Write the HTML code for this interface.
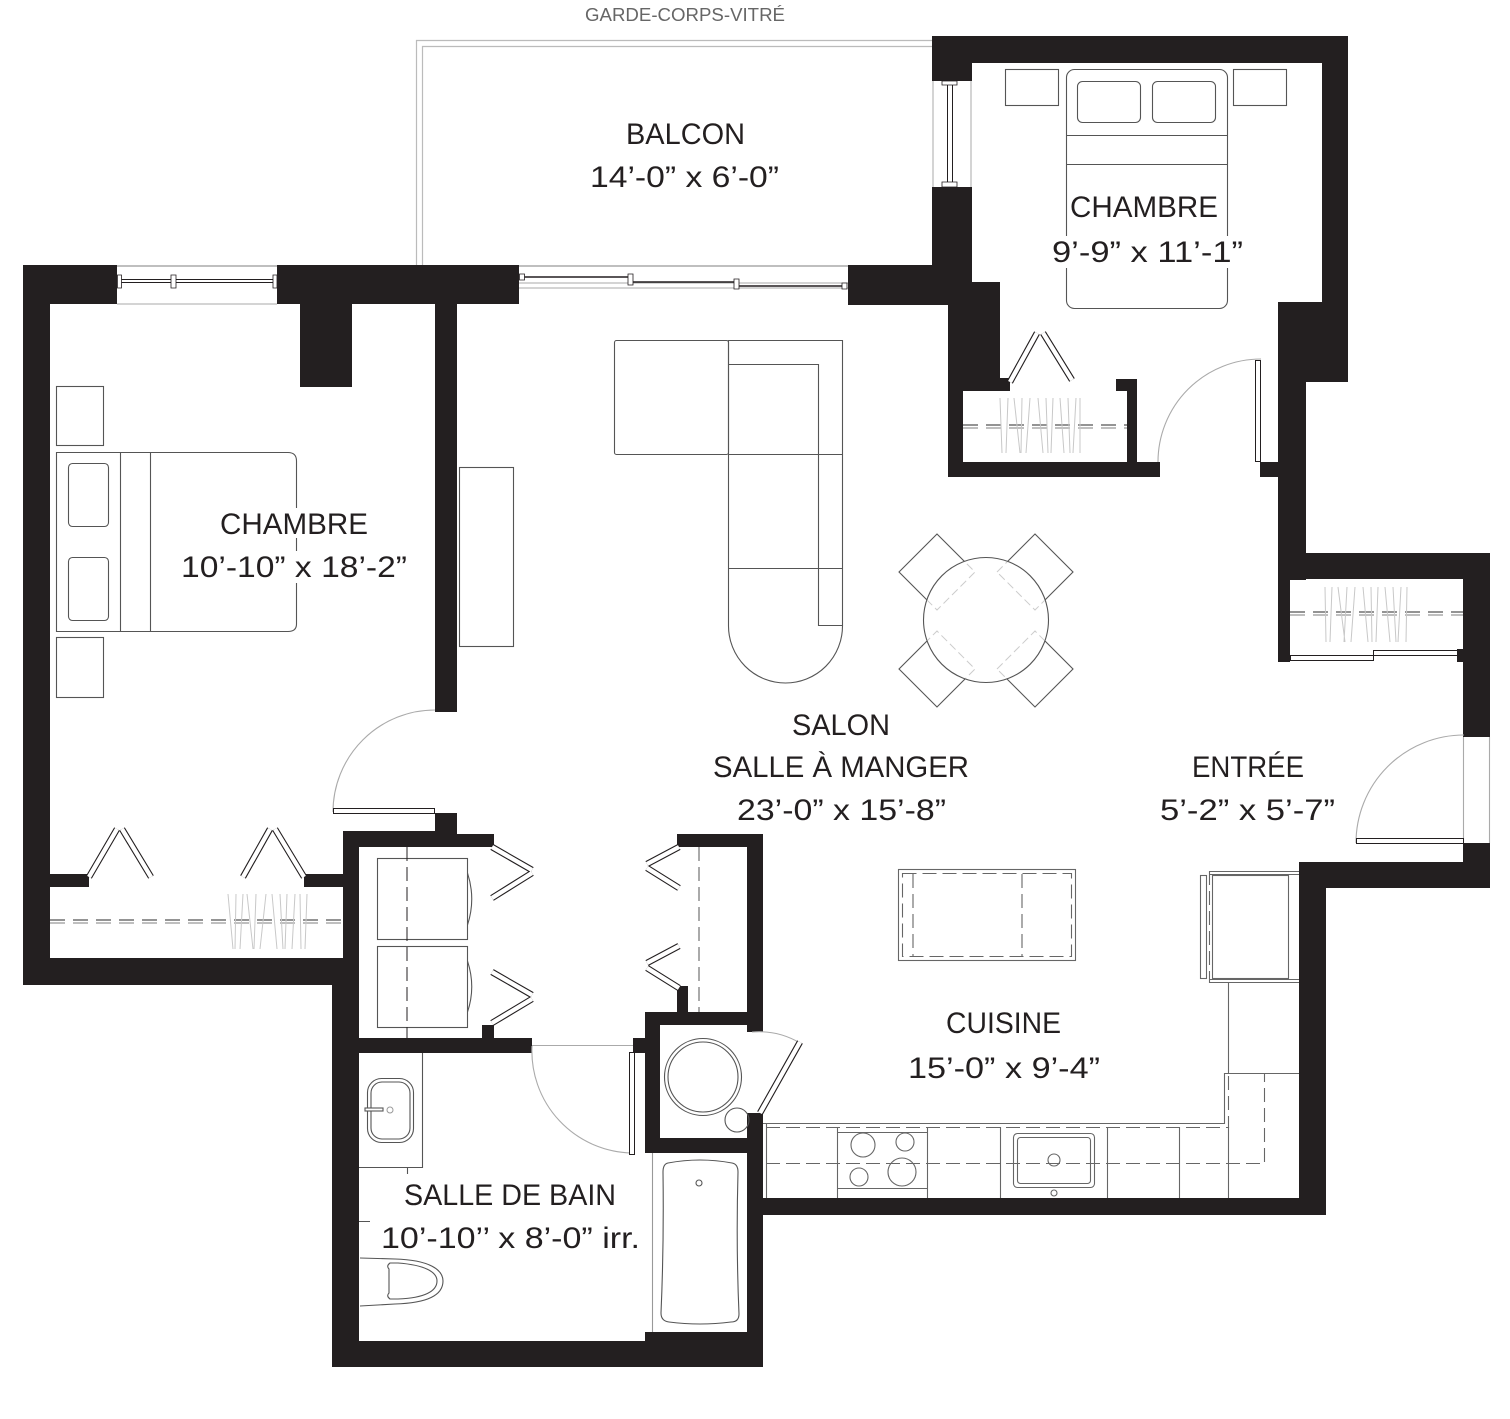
<!DOCTYPE html>
<html><head><meta charset="utf-8"><style>
html,body{margin:0;padding:0;background:#fff}
svg{display:block}
text{font-family:"Liberation Sans",sans-serif;fill:#231f20;font-size:30px}
</style></head><body>
<svg width="1510" height="1419" viewBox="0 0 1510 1419" xmlns="http://www.w3.org/2000/svg" xmlns:xlink="http://www.w3.org/1999/xlink">
<defs>
<path id="bifold" d="M89,877 L117,829 M122,829 L151,877 M243,877 L270,829 M275,829 L304,877 M1010,382 L1037,333 M1043,333 L1072,380 M492,847 L532,870 M532,873 L492,898 M492,972 L532,995 M532,999 L492,1023 M679,847 L647,864 M647,868 L679,888 M679,946 L647,963 M647,968 L679,988 M760,1113 L800,1042"/>
<path id="chairs" d="M899,572 L937,534 L975,572 L937,610 Z M997,572 L1035,534 L1073,572 L1035,610 Z M899,669 L937,631 L975,669 L937,707 Z M997,669 L1035,631 L1073,669 L1035,707 Z"/>
<clipPath id="tbl"><circle cx="986" cy="620" r="62"/></clipPath>
</defs>
<rect x="0" y="0" width="1510" height="1419" fill="#fff"/>
<path d="M416.5,265 V40.5 H932 M422.5,265 V46.5 H932" fill="none" stroke="#bbb" stroke-width="1.2"/>
<path fill="#231f20" d="M23,265h94v39h-94z M277,265h242v39h-242z M300,300h52v87h-52z M23,265h27v720h-27z M435,300h22v412h-22z M848,265h124v40h-124z M932,36h416v27h-416z M932,60h40v21h-40z M932,187h40v118h-40z M948,282h52v98h-52z M948,378h62v13h-62z M948,380h15v97h-15z M948,462h212v15h-212z M1116,379h21v12h-21z M1127,379h10v90h-10z M1322,36h26v270h-26z M1278,302h70v80h-70z M1278,378h28v202h-28z M1260,462h20v15h-20z M1278,553h212v26h-212z M1278,575h12v87h-12z M1463,553h27v184h-27z M1457,649h10v13h-10z M1463,843h27v45h-27z M1299,862h191v26h-191z M1299,862h27v353h-27z M747,1198h579v17h-579z M747,1113h16v254h-16z M332,1341h431v26h-431z M645,1332h118v35h-118z M332,985h27v382h-27z M343,831h16v222h-16z M23,958h321v27h-321z M50,874h39v13h-39z M304,874h42v13h-42z M435,813h22v22h-22z M343,831h114v16h-114z M455,834h39v13h-39z M482,1025h12v15h-12z M359,1038h173v15h-173z M633,1038h14v15h-14z M677,834h86v13h-86z M747,834h16v198h-16z M677,986h11v27h-11z M645,1012h118v13h-118z M645,1012h15v141h-15z M645,1138h118v15h-118z"/>
<path d="M117,266 H277 M519,266 H848" stroke="#999" stroke-width="1.3" fill="none"/>
<path d="M117,304 H277 M519,283 H848 M519,288 H848 M933,81 V187 M971,81 V187" stroke="#aaa" stroke-width="1" fill="none"/>
<path d="M120,279.5 H274 M120,282.5 H274 M947.5,84 V184 M952.5,84 V184" stroke="#231f20" stroke-width="1" fill="none"/>
<path d="M521,277 H630 M630,282 H736 M736,286 H845" stroke="#231f20" stroke-width="1.5" fill="none"/>
<path fill="#fff" stroke="#231f20" stroke-width="0.8" d="M117.5,275h4v13h-4z M171,275h5v13h-5z M273,275h4v13h-4z M519.5,274h5v6h-5z M628,274h5v11h-5z M734,279h5v10h-5z M842,283h5v6h-5z M942,81h15v4h-15z M942,182h15v5h-15z"/>
<path fill="none" stroke="#aaa" stroke-width="1.1" d="M333,812 A102,102 0 0 1 435,710 M1158,462 A103,103 0 0 1 1261,359 M1356,843 A108,108 0 0 1 1464,735 M532,1046 A102,102 0 0 0 632,1153 M532,1045.5 H633 M752,1032 A81,81 0 0 1 800,1043 M1463.5,737 V843 M1489.5,737 V843"/>
<path fill="#fff" stroke="#231f20" stroke-width="1" d="M333.5,808.5h101v5h-101z M1255.5,360.5h5v101h-5z M629.5,1052.5h5v102h-5z M1356.5,838.5h107v5h-107z M1290.5,655.5h83v5h-83z M1373.5,650.5h84v5h-84z"/>
<use xlink:href="#bifold" href="#bifold" fill="none" stroke="#231f20" stroke-width="6.5"/>
<use xlink:href="#bifold" href="#bifold" fill="none" stroke="#fff" stroke-width="4.3"/>
<path fill="none" stroke="#555" stroke-width="1.2" stroke-dasharray="15 8" d="M50,920 H344 M963,425 H1127 M1290,612 H1463"/>
<path fill="none" stroke="#999" stroke-width="1.2" stroke-dasharray="15 8" d="M50,923 H344 M963,428 H1127 M1290,615 H1463"/>
<path stroke="#c8c8c8" stroke-width="1" fill="none" d="M228,894 L233,949 M236,894 L235,949 M243,894 L240,949 M247,894 L253,949 M256,894 L254,949 M266,894 L260,949 M272,894 L277,949 M280,894 L283,949 M287,894 L285,949 M295,894 L292,949 M300,894 L301,949 M307,894 L305,949 M1000,398 L1002,453 M1008,398 L1006,453 M1014,398 L1020,453 M1022,398 L1021,453 M1030,398 L1026,453 M1038,398 L1043,453 M1046,398 L1048,453 M1053,398 L1051,453 M1060,398 L1064,453 M1068,398 L1070,453 M1076,398 L1073,453 M1080,398 L1080,453 M1325,587 L1326,642 M1332,587 L1330,642 M1338,587 L1345,642 M1347,587 L1344,642 M1355,587 L1351,642 M1363,587 L1368,642 M1371,587 L1372,642 M1378,587 L1376,642 M1385,587 L1390,642 M1393,587 L1396,642 M1401,587 L1398,642 M1407,587 L1406,642"/>
<g fill="none" stroke="#555" stroke-width="1.1">
<rect x="56.5" y="386.5" width="47" height="59"/>
<rect x="56.5" y="637.5" width="47" height="60"/>
<path d="M56.5,452.5 H288 Q296.5,452.5 296.5,461 V624 Q296.5,631.5 288,631.5 H56.5 Z M120.5,452.5 V631.5 M150.5,452.5 V631.5"/>
<rect x="68.5" y="463.5" width="40" height="63" rx="4"/>
<rect x="68.5" y="557.5" width="40" height="63" rx="4"/>
<rect x="459.5" y="467.5" width="54" height="179"/>
<rect x="1005.5" y="69.5" width="53" height="36"/>
<rect x="1233.5" y="69.5" width="53" height="36"/>
<rect x="1066.5" y="69.5" width="161" height="239" rx="8"/>
<rect x="1077.5" y="81.5" width="63" height="41" rx="5"/>
<rect x="1152.5" y="81.5" width="63" height="41" rx="5"/>
<path d="M1066.5,135.5 H1227.5 M1066.5,164.5 H1227.5"/>
<rect x="614.5" y="340.5" width="114" height="114" rx="2"/>
<path d="M728.5,340.5 H842.5 V626 A57,57 0 0 1 728.5,626 Z M728.5,454.5 H842.5 M728.5,568.5 H842.5 M728.5,364.5 H818.5 V625.5 H842.5"/>
</g>
<use xlink:href="#chairs" href="#chairs" fill="#fff" stroke="#555" stroke-width="1.1"/>
<circle cx="986" cy="620" r="62.5" fill="#fff" stroke="#555" stroke-width="1.1"/>
<use xlink:href="#chairs" href="#chairs" fill="none" stroke="#ccc" stroke-width="1" stroke-dasharray="8 4" clip-path="url(#tbl)"/>
<g fill="none" stroke="#555" stroke-width="1.1">
<rect x="377.5" y="858.5" width="90" height="81"/>
<rect x="377.5" y="946.5" width="90" height="81"/>
<path d="M467.5,873 Q476,899 467.5,925 M467.5,961 Q476,987 467.5,1012"/>
<circle cx="703" cy="1077" r="38.5"/>
<circle cx="703" cy="1077" r="35"/>
<circle cx="737" cy="1120" r="12"/>
<path d="M668,1163 Q700,1157 732,1163 Q738,1164 738,1172 Q736,1245 739,1314 Q739,1322 731,1322 Q700,1326 669,1322 Q661,1321 661,1313 Q664,1245 663,1172 Q663,1164 668,1163 Z"/>
<circle cx="699" cy="1183" r="3"/>
<path d="M422.5,1053 V1167.5 H359 M407.5,1167 V1174 M359,1221.5 H370"/>
<rect x="367.5" y="1078.5" width="46" height="64" rx="14"/>
<rect x="371" y="1082" width="39" height="57" rx="11"/>
<rect x="365" y="1108" width="18" height="3" fill="#fff"/>
<path d="M360,1258 L395,1259 C430,1260 443,1270 443,1281 C443,1294 430,1303 395,1304 L360,1306"/>
<path d="M390,1263 L398,1263 C425,1265 437,1272 437,1281 C437,1291 425,1298 398,1299 L390,1299 Q386,1296 389,1293 L389,1269 Q386,1266 390,1263 Z"/>
</g>
<path d="M652.5,1153 V1332" stroke="#999" stroke-width="1.1"/>
<circle cx="390" cy="1110" r="3" fill="none" stroke="#999"/>
<path d="M407,847 V1038" stroke="#231f20" stroke-width="1" stroke-dasharray="14 6"/>
<path d="M699,847 V1012" stroke="#555" stroke-width="1" stroke-dasharray="14 6"/>
<g fill="none" stroke="#666" stroke-width="1.1">
<rect x="898.5" y="869.5" width="177" height="91"/>
<rect x="1212.5" y="875.5" width="76" height="103"/>
<rect x="1200.5" y="875.5" width="6" height="103"/>
<path d="M1209,871.5 H1299 M1209,874.5 H1299 M1209,979.5 H1299 M1209,982.5 H1299"/>
<path d="M763,1123.5 H1224.5 V1073.5 H1299 M1228.5,983 V1073 M766.5,1123 V1198"/>
<path d="M837.5,1127 V1198 M927.5,1127 V1198 M1000.5,1127 V1198 M1107.5,1127 V1198 M1179.5,1127 V1198 M1228.5,1127 V1198 M837,1132.5 H927 M837,1188.5 H927"/>
<circle cx="863" cy="1145" r="12"/>
<circle cx="905" cy="1142" r="9"/>
<circle cx="859" cy="1177" r="9"/>
<circle cx="902" cy="1172" r="14"/>
<rect x="1013.5" y="1133.5" width="81" height="54" rx="4"/>
<rect x="1017.5" y="1137.5" width="73" height="46" rx="3"/>
<circle cx="1054" cy="1160" r="6"/>
<circle cx="1054" cy="1193" r="3"/>
</g>
<g fill="none" stroke="#666" stroke-width="1.1" stroke-dasharray="14 6">
<rect x="902.5" y="873.5" width="169" height="83"/>
<path d="M913,874 V956 M1022,874 V956 M1209.5,871 V983 M766,1127.5 H1228.5 V1073.5 M766,1163.5 H1264.5 V1073.5"/>
</g>
<path fill="#fff" d="M1052,236h192v32h-192z M218,508h152v30h-152z M180,551h228v32h-228z"/>
<text x="585" y="21" textLength="200" lengthAdjust="spacingAndGlyphs" style="font-size:18px;fill:#666">GARDE-CORPS-VITRÉ</text>
<text x="626" y="144" textLength="119" lengthAdjust="spacingAndGlyphs">BALCON</text>
<text x="590" y="187" textLength="189" lengthAdjust="spacingAndGlyphs">14’-0” x 6’-0”</text>
<text x="1070" y="217" textLength="148" lengthAdjust="spacingAndGlyphs">CHAMBRE</text>
<text x="1052" y="262" textLength="191" lengthAdjust="spacingAndGlyphs">9’-9” x 11’-1”</text>
<text x="220" y="534" textLength="148" lengthAdjust="spacingAndGlyphs">CHAMBRE</text>
<text x="181" y="577" textLength="226" lengthAdjust="spacingAndGlyphs">10’-10” x 18’-2”</text>
<text x="792" y="735" textLength="98" lengthAdjust="spacingAndGlyphs">SALON</text>
<text x="713" y="777" textLength="256" lengthAdjust="spacingAndGlyphs">SALLE À MANGER</text>
<text x="737" y="820" textLength="209" lengthAdjust="spacingAndGlyphs">23’-0” x 15’-8”</text>
<text x="1192" y="777" textLength="112" lengthAdjust="spacingAndGlyphs">ENTRÉE</text>
<text x="1160" y="820" textLength="175" lengthAdjust="spacingAndGlyphs">5’-2” x 5’-7”</text>
<text x="946" y="1033" textLength="115" lengthAdjust="spacingAndGlyphs">CUISINE</text>
<text x="908" y="1078" textLength="192" lengthAdjust="spacingAndGlyphs">15’-0” x 9’-4”</text>
<text x="404" y="1205" textLength="212" lengthAdjust="spacingAndGlyphs">SALLE DE BAIN</text>
<text x="381" y="1248" textLength="259" lengthAdjust="spacingAndGlyphs">10’-10’’ x 8’-0” irr.</text>
</svg>
</body></html>
